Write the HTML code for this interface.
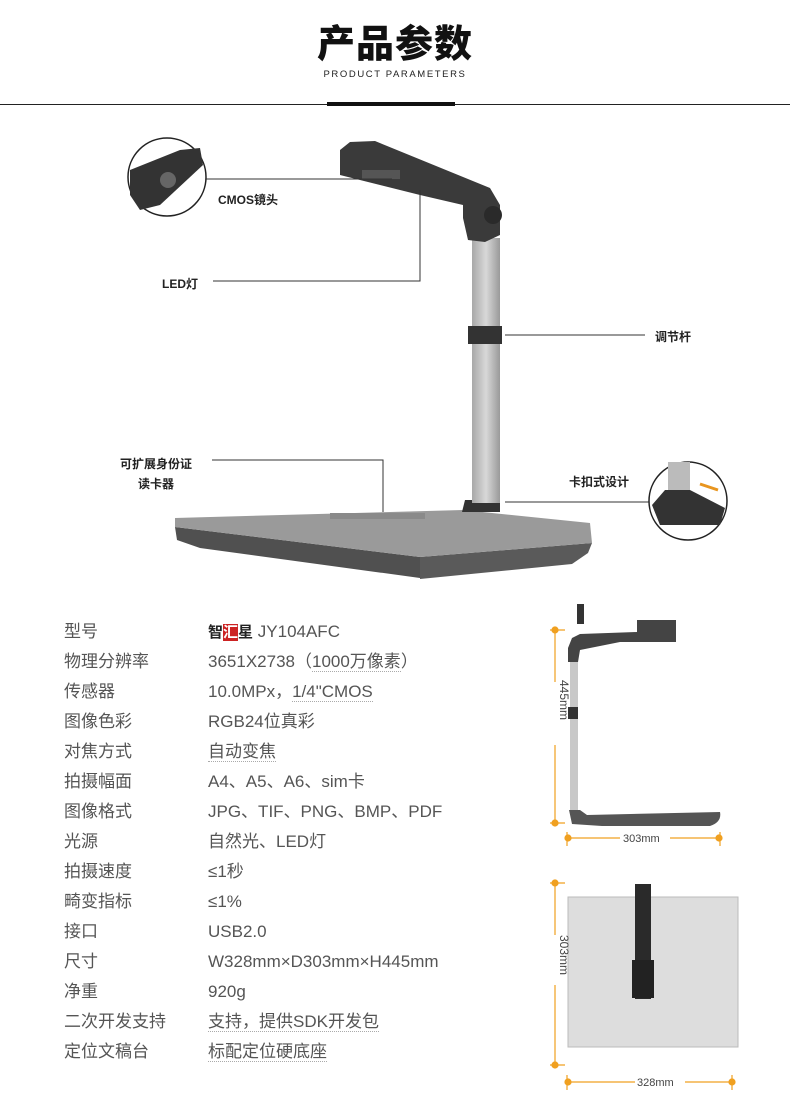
<!DOCTYPE html>
<html><head><meta charset="utf-8"><style>
body{margin:0;width:790px;height:1113px;background:#fff;position:relative;overflow:hidden;font-family:"Liberation Sans","Noto Sans CJK SC",sans-serif}
.a{position:absolute;white-space:nowrap}
.lb{font-size:12px;font-weight:bold;color:#222}
.r{position:absolute;font-size:17px;line-height:22px;color:#555;white-space:nowrap}
.u{border-bottom:1px dotted #aaa}
</style></head><body>
<div class="a" style="left:0;width:790px;top:22px;text-align:center;font-size:38px;line-height:46px;font-weight:900;color:#111;letter-spacing:1px">产品参数</div>
<div class="a" style="left:0;width:790px;top:69px;text-align:center;font-size:9.5px;line-height:11px;letter-spacing:1.6px;color:#222">PRODUCT PARAMETERS</div>
<div class="a" style="left:0;top:104px;width:790px;height:1px;background:#222"></div>
<div class="a" style="left:327px;top:102px;width:128px;height:4px;background:#111"></div>

<svg class="a" style="left:0;top:0" width="790" height="600">
<defs><linearGradient id="p" x1="0" x2="1"><stop offset="0" stop-color="#a8a8a8"/><stop offset=".5" stop-color="#d8d8d8"/><stop offset="1" stop-color="#999"/></linearGradient></defs>
<polygon points="175,527 420,557 420,578 200,548 177,540" fill="#505050"/>
<polygon points="420,557 592,543 588,553 572,564 420,579" fill="#5a5a5a"/>
<polygon points="175,518 463,510 590,523 592,543 420,557 175,527" fill="#9a9a9a"/>
<rect x="330" y="513" width="95" height="6" fill="#8a8a8a"/>
<polygon points="465,500 500,500 500,512 462,512" fill="#333"/>
<rect x="472" y="238" width="28" height="265" fill="url(#p)"/>
<rect x="468" y="326" width="34" height="18" fill="#333"/>
<polygon points="340,150 350,142 375,141 490,188 500,205 500,235 485,242 468,240 463,218 463,205 420,195 360,180 340,175" fill="#3a3a3a"/>
<circle cx="493" cy="215" r="9" fill="#2a2a2a"/>
<rect x="362" y="170" width="38" height="9" fill="#555"/>
<g stroke="#333" stroke-width="1" fill="none">
<path d="M205 179 H392"/><path d="M213 281 H420 V190"/><path d="M505 335 H645"/><path d="M212 460 H383 V512"/><path d="M505 502 H650"/>
</g>
<circle cx="167" cy="177" r="39" fill="#fff" stroke="#222" stroke-width="1.5"/>
<path d="M130 170 L180 150 L200 148 L203 165 L160 205 L140 210 L130 195 Z" fill="#333"/>
<circle cx="168" cy="180" r="8" fill="#666"/>
<circle cx="688" cy="501" r="39" fill="#fff" stroke="#222" stroke-width="1.5"/>
<rect x="668" y="462" width="22" height="30" fill="#bbb"/>
<path d="M652 505 L665 490 L690 490 L725 508 L720 525 L660 525 Z" fill="#333"/>
<path d="M700 484 L718 490" stroke="#e8951f" stroke-width="3"/>
</svg>
<div class="a lb" style="left:218px;top:191px">CMOS镜头</div>
<div class="a lb" style="left:162px;top:275px">LED灯</div>
<div class="a lb" style="left:655px;top:328px">调节杆</div>
<div class="a lb" style="left:120px;top:454px;text-align:center;line-height:20px">可扩展身份证<br>读卡器</div>
<div class="a lb" style="left:569px;top:473px">卡扣式设计</div>

<div class="r" style="left:64px;top:621px">型号</div><div class="r" style="left:208px;top:621px"><b style="color:#222;font-size:15px">智<span style="background:#c22;color:#fff">汇</span>星</b> JY104AFC</div>
<div class="r" style="left:64px;top:651px">物理分辨率</div><div class="r" style="left:208px;top:651px">3651X2738（<span class="u">1000万像素</span>）</div>
<div class="r" style="left:64px;top:681px">传感器</div><div class="r" style="left:208px;top:681px">10.0MPx，<span class="u">1/4"CMOS</span></div>
<div class="r" style="left:64px;top:711px">图像色彩</div><div class="r" style="left:208px;top:711px">RGB24位真彩</div>
<div class="r" style="left:64px;top:741px">对焦方式</div><div class="r" style="left:208px;top:741px"><span class="u">自动变焦</span></div>
<div class="r" style="left:64px;top:771px">拍摄幅面</div><div class="r" style="left:208px;top:771px">A4、A5、A6、sim卡</div>
<div class="r" style="left:64px;top:801px">图像格式</div><div class="r" style="left:208px;top:801px">JPG、TIF、PNG、BMP、PDF</div>
<div class="r" style="left:64px;top:831px">光源</div><div class="r" style="left:208px;top:831px">自然光、LED灯</div>
<div class="r" style="left:64px;top:861px">拍摄速度</div><div class="r" style="left:208px;top:861px">≤1秒</div>
<div class="r" style="left:64px;top:891px">畸变指标</div><div class="r" style="left:208px;top:891px">≤1%</div>
<div class="r" style="left:64px;top:921px">接口</div><div class="r" style="left:208px;top:921px">USB2.0</div>
<div class="r" style="left:64px;top:951px">尺寸</div><div class="r" style="left:208px;top:951px">W328mm×D303mm×H445mm</div>
<div class="r" style="left:64px;top:981px">净重</div><div class="r" style="left:208px;top:981px">920g</div>
<div class="r" style="left:64px;top:1011px">二次开发支持</div><div class="r" style="left:208px;top:1011px"><span class="u">支持，提供SDK开发包</span></div>
<div class="r" style="left:64px;top:1041px">定位文稿台</div><div class="r" style="left:208px;top:1041px"><span class="u">标配定位硬底座</span></div>

<svg class="a" style="left:540px;top:590px" width="250" height="523">
<g stroke="#f0a020" stroke-width="1.2" fill="#f0a020">
<path d="M10 40 H25 M15 40 V92 M15 155 V233 M10 233 H25"/><circle cx="15" cy="40" r="3"/><circle cx="15" cy="233" r="3"/>
<path d="M27 248 H80 M130 248 H178 M27 242 V256 M180 242 V256"/><circle cx="28" cy="248" r="3"/><circle cx="179" cy="248" r="3"/>
<path d="M10 293 H25 M15 293 V345 M15 395 V475 M10 475 H25"/><circle cx="15" cy="293" r="3"/><circle cx="15" cy="475" r="3"/>
<path d="M27 485 V500 M192 485 V500 M27 492 H95 M145 492 H192"/><circle cx="28" cy="492" r="3"/><circle cx="192" cy="492" r="3"/>
</g>
<rect x="37" y="14" width="7" height="20" fill="#333"/>
<path d="M32 48 L40 44 L97 42 L97 30 L136 30 L136 52 L80 52 L40 60 L38 72 L28 72 L28 58 Z" fill="#444"/>
<rect x="30" y="72" width="8" height="150" fill="#c8c8c8"/>
<rect x="28" y="117" width="10" height="12" fill="#333"/>
<path d="M29 220 L40 220 L47 225 L180 222 Q182 232 170 236 L62 236 L32 234 Z" fill="#555"/>
<rect x="28" y="307" width="170" height="150" fill="#ddd" stroke="#bbb"/>
<rect x="95" y="294" width="16" height="115" fill="#2a2a2a"/>
<rect x="92" y="370" width="22" height="38" fill="#222"/>
<text x="20" y="90" font-size="12" fill="#444" transform="rotate(90 20 90)" font-family="Liberation Sans">445mm</text>
<text x="20" y="345" font-size="12" fill="#444" transform="rotate(90 20 345)" font-family="Liberation Sans">303mm</text>
<text x="83" y="252" font-size="11" fill="#444" font-family="Liberation Sans">303mm</text>
<text x="97" y="496" font-size="11" fill="#444" font-family="Liberation Sans">328mm</text>
</svg>
</body></html>
